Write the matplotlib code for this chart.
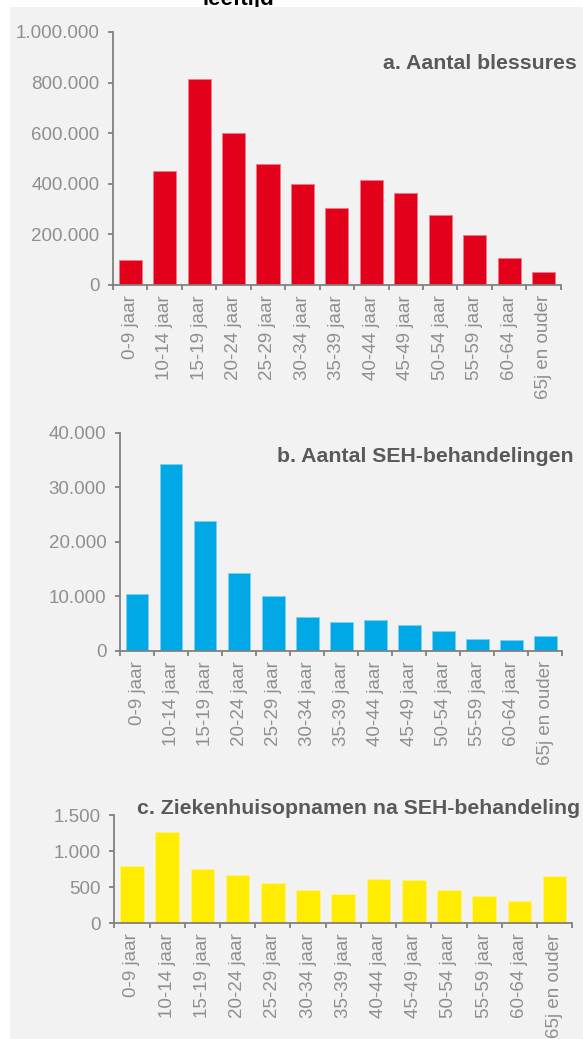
"""
Blessures, SEH-behandelingen en ziekenhuisopnamen naar leeftijd
"""
#------------------------------------------------------------------------------
# Libraries
#------------------------------------------------------------------------------

import numpy as np
import matplotlib
matplotlib.use("Agg")
import matplotlib.pyplot as plt
from matplotlib.patches import Rectangle
from matplotlib.ticker import FuncFormatter, FixedLocator

plt.rcParams['font.family'] = ['Liberation Sans', 'DejaVu Sans']

#------------------------------------------------------------------------------
# Data
#------------------------------------------------------------------------------

leeftijd = ['0-9 jaar', '10-14 jaar', '15-19 jaar', '20-24 jaar', '25-29 jaar',
            '30-34 jaar', '35-39 jaar', '40-44 jaar', '45-49 jaar', '50-54 jaar',
            '55-59 jaar', '60-64 jaar', '65j en ouder']

blessures = [98000, 450000, 814000, 600000, 478000, 398000, 302000,
             416000, 364000, 276000, 195000, 107000, 49000]

seh = [10350, 34200, 23850, 14250, 10100, 6100, 5300,
       5600, 4800, 3550, 2150, 1950, 2700]

opnamen = [798, 1267, 756, 673, 557, 460, 408,
           613, 603, 460, 380, 306, 655]

titels = ['a. Aantal blessures', 'b. Aantal SEH-behandelingen',
          'c. Ziekenhuisopnamen na SEH-behandeling']

#------------------------------------------------------------------------------
# Figure
#------------------------------------------------------------------------------

W, H = 583, 1039
fig = plt.figure(figsize=(W / 100, H / 100), dpi=100, facecolor='white')

# title is cut off at the top in the original, only its lower part shows
fig.text(238 / W, 1 - 5 / H, 'leeftijd', ha='center', va='baseline',
         fontsize=16, fontweight='bold', color='black', zorder=-2)
fig.patches.append(Rectangle((10 / W, 0.5 / H), 1 - 10 / W, 1 - 7.5 / H,
                             transform=fig.transFigure, facecolor='#f2f2f2',
                             edgecolor='none', zorder=-1))

grey = '#808080'
label_grey = '#8f8f8f'

def dots(v, pos):
    return f"{int(round(v)):,}".replace(',', '.')

# (left, right, top, bottom) in pixels, values, ymax, step, colour, edge, title pos
panels = [
    ((113, 560.7, 32, 284.7), blessures, 1000000, 200000, '#e2001a', '#f27a88', (577, 69)),
    ((120, 562.3, 432.7, 650.7), seh, 40000, 10000, '#00a9e6', '#7fd0f0', (574, 462)),
    ((114.3, 572.3, 815.3, 923), opnamen, 1500, 500, '#ffec00', '#fff38a', (580, 814)),
]

x = np.arange(len(leeftijd))

for ttl, ((l, r, t, b), vals, ymax, step, col, edge, tpos) in zip(titels, panels):
    ax = fig.add_axes([l / W, 1 - b / H, (r - l) / W, (b - t) / H])
    ax.set_facecolor('none')
    ax.bar(x, vals, width=0.67, color=col, edgecolor=edge, linewidth=0.6)
    ax.set_xlim(-0.5, len(leeftijd) - 0.5)
    ax.set_ylim(0, ymax)
    ax.set_yticks(np.arange(0, ymax + 1, step))
    ax.yaxis.set_major_formatter(FuncFormatter(dots))
    ax.set_xticks(x)
    ax.set_xticklabels(leeftijd, rotation=90)
    # ticks between the categories, Excel style
    ax.xaxis.set_minor_locator(FixedLocator(np.arange(-0.5, len(leeftijd), 1)))
    for s in ['top', 'right']:
        ax.spines[s].set_visible(False)
    for s in ['left', 'bottom']:
        ax.spines[s].set_color(grey)
        ax.spines[s].set_linewidth(1.3)
    ax.tick_params(axis='x', which='major', length=0, pad=7.5,
                   labelsize=13.5, labelcolor=label_grey)
    ax.tick_params(axis='x', which='minor', length=3.8, width=1.3,
                   color=grey, direction='out')
    ax.tick_params(axis='y', length=3.8, width=1.3, color=grey, pad=6,
                   labelsize=13.5, labelcolor=label_grey)

    fig.text(tpos[0] / W, 1 - tpos[1] / H, ttl, ha='right', va='baseline',
             fontsize=15.3, fontweight='bold', color='#595959')

fig.savefig('out.png', dpi=100, facecolor='white')
